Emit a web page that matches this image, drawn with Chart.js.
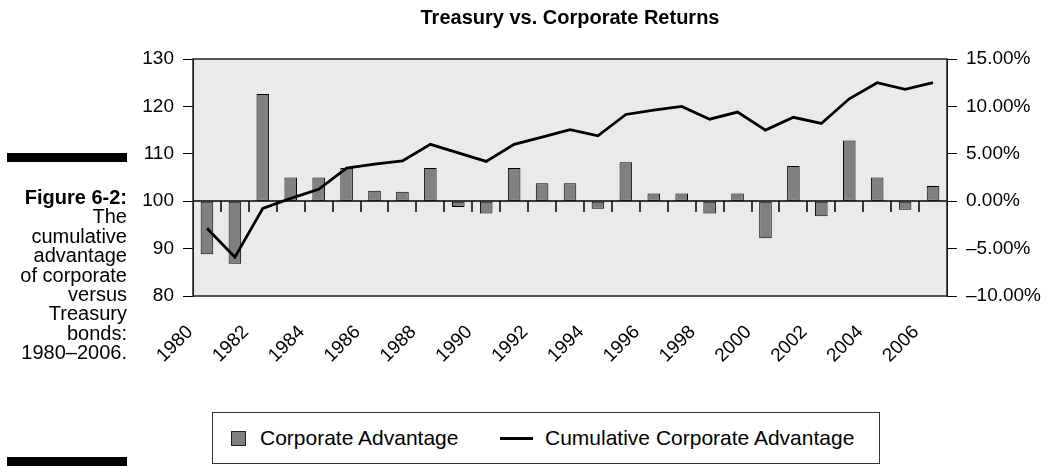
<!DOCTYPE html>
<html>
<head>
<meta charset="utf-8">
<script src="https://cdn.jsdelivr.net/npm/chart.js@4.4.1/dist/chart.umd.min.js"></script>
<style>
  html, body { margin:0; padding:0; background:#fff; width:1047px; height:466px; overflow:hidden; }
  body { font-family:'Liberation Sans', Arial, sans-serif; color:#000; position:relative; }
  #chart { position:absolute; left:0; top:0; }
  .rule { position:absolute; left:7px; width:120px; height:9px; background:#000; }
  #caption { position:absolute; left:0; top:188px; width:127px; text-align:right; font-size:20px; line-height:19.4px; }
  #caption b { font-weight:bold; }
  #legend { position:absolute; left:212px; top:412px; width:668px; height:52px; border:1px solid #333; box-sizing:border-box;
            font-size:21px; white-space:nowrap; }
  #legend span { position:absolute; }
  .sq { left:18px; top:18px; width:13px; height:13px; background:#808080; border:1px solid #222; }
  .ln { left:287px; top:24px; width:33px; height:3px; background:#000; }
  .t1 { left:47px; top:13px; }
  .t2 { left:332px; top:13px; }
</style>
</head>
<body>
<canvas id="chart" width="1047" height="410"></canvas>
<div class="rule" style="top:153px"></div>
<div id="caption"><b>Figure 6-2:</b><br>The<br>cumulative<br>advantage<br>of corporate<br>versus<br>Treasury<br>bonds:<br>1980–2006.</div>
<div class="rule" style="top:457px"></div>
<div id="legend"><span class="sq"></span><span class="t1">Corporate Advantage</span><span class="ln"></span><span class="t2">Cumulative Corporate Advantage</span></div>
<script>
const chartTitle = 'Treasury vs. Corporate Returns';
const years = ['1980','1981','1982','1983','1984','1985','1986','1987','1988','1989','1990','1991','1992','1993',
               '1994','1995','1996','1997','1998','1999','2000','2001','2002','2003','2004','2005','2006'];
// yearly corporate advantage, percent (right axis)
const corporateAdvantage = [-5.6, -6.6, 11.3, 2.5, 2.5, 3.5, 1.1, 1.0, 3.5, -0.6, -1.3, 3.5, 1.9, 1.9,
                            -0.8, 4.1, 0.8, 0.8, -1.3, 0.8, -3.9, 3.7, -1.6, 6.4, 2.5, -0.9, 1.6];
// cumulative index (left axis)
const cumulativeAdvantage = [94.3, 88.2, 98.5, 100.6, 102.5, 107.0, 107.8, 108.5, 112.0, 110.2, 108.4, 112.0, 113.5, 115.1,
                             113.8, 118.3, 119.2, 120.0, 117.3, 118.8, 115.0, 117.7, 116.4, 121.6, 125.0, 123.6, 125.0];
const leftAxis = { min: 80, max: 130, step: 10, base: 100 };
const rightAxis = { min: -10, max: 15, step: 5 };

const FONT = "'Liberation Sans', Arial, sans-serif";

const plotFrame = {
  id: 'plotFrame',
  beforeDraw(chart) {
    const a = chart.chartArea, c = chart.ctx;
    c.save();
    c.fillStyle = '#eaeaea';
    c.fillRect(a.left, a.top, a.right - a.left, a.bottom - a.top);
    c.restore();
  },
  afterDatasetsDraw(chart) {
    // category axis crossing at the base value, with tick marks between categories
    const xs = chart.scales.x, ys = chart.scales.y, a = chart.chartArea, c = chart.ctx;
    const y0 = Math.round(ys.getPixelForValue(leftAxis.base));
    c.save();
    c.strokeStyle = '#000';
    c.lineWidth = 1.5;
    c.beginPath();
    c.moveTo(a.left, y0); c.lineTo(a.right, y0);
    const n = xs.getLabels().length;
    for (let i = 1; i < n; i++) {
      const x = Math.round((xs.getPixelForValue(i - 1) + xs.getPixelForValue(i)) / 2);
      c.moveTo(x, y0); c.lineTo(x, y0 + 11);
    }
    c.stroke();
    c.restore();
  },
  afterDraw(chart) {
    const a = chart.chartArea, c = chart.ctx;
    c.save();
    c.strokeStyle = '#222';
    c.lineWidth = 1.5;
    c.strokeRect(a.left, a.top, a.right - a.left, a.bottom - a.top);
    c.restore();
  }
};

new Chart(document.getElementById('chart'), {
  type: 'bar',
  data: {
    labels: years,
    datasets: [
      {
        type: 'line',
        label: 'Cumulative Corporate Advantage',
        data: cumulativeAdvantage,
        yAxisID: 'y',
        borderColor: '#000',
        borderWidth: 2.8,
        pointRadius: 0,
        tension: 0,
        order: 0
      },
      {
        type: 'bar',
        label: 'Corporate Advantage',
        data: corporateAdvantage,
        yAxisID: 'y2',
        backgroundColor: '#808080',
        borderColor: '#000',
        borderWidth: 1,
        borderSkipped: false,
        categoryPercentage: 1,
        barPercentage: 0.45,
        order: 1
      }
    ]
  },
  options: {
    responsive: false,
    animation: false,
    devicePixelRatio: 1,
    layout: { padding: 0 },
    plugins: {
      legend: { display: false },
      tooltip: { enabled: false },
      title: {
        display: true,
        text: chartTitle,
        fullSize: false,
        color: '#000',
        font: { family: FONT, size: 20, weight: 'bold', lineHeight: 1.2 },
        padding: { top: 6, bottom: 29 }
      }
    },
    scales: {
      x: {
        type: 'category',
        position: 'bottom',
        offset: true,
        grid: { display: false, drawTicks: false },
        border: { display: false },
        ticks: {
          autoSkip: false,
          minRotation: 45,
          maxRotation: 45,
          padding: 25,
          labelOffset: -17,
          color: '#000',
          font: { family: FONT, size: 19 },
          callback: function (v, i) { return i % 2 === 0 ? this.getLabelForValue(v) : ''; }
        },
        afterFit(s) { s.height = 114; }
      },
      y: {
        position: 'left',
        min: leftAxis.min,
        max: leftAxis.max,
        grid: { drawOnChartArea: false, drawTicks: true, tickLength: 10, color: '#000' },
        border: { display: true, color: '#000', width: 1 },
        ticks: { stepSize: leftAxis.step, padding: 9, color: '#000', font: { family: FONT, size: 19 } },
        afterFit(s) { s.width = 193; }
      },
      y2: {
        position: 'right',
        min: rightAxis.min,
        max: rightAxis.max,
        grid: { drawOnChartArea: false, drawTicks: true, tickLength: 10, color: '#000' },
        border: { display: true, color: '#000', width: 1 },
        ticks: {
          stepSize: rightAxis.step, padding: 9, color: '#000', font: { family: FONT, size: 19 },
          callback: v => (v < 0 ? '\u2013' : '') + Math.abs(v).toFixed(2) + '%'
        },
        afterFit(s) { s.width = 100; }
      }
    }
  },
  plugins: [plotFrame]
});
</script>
</body>
</html>
